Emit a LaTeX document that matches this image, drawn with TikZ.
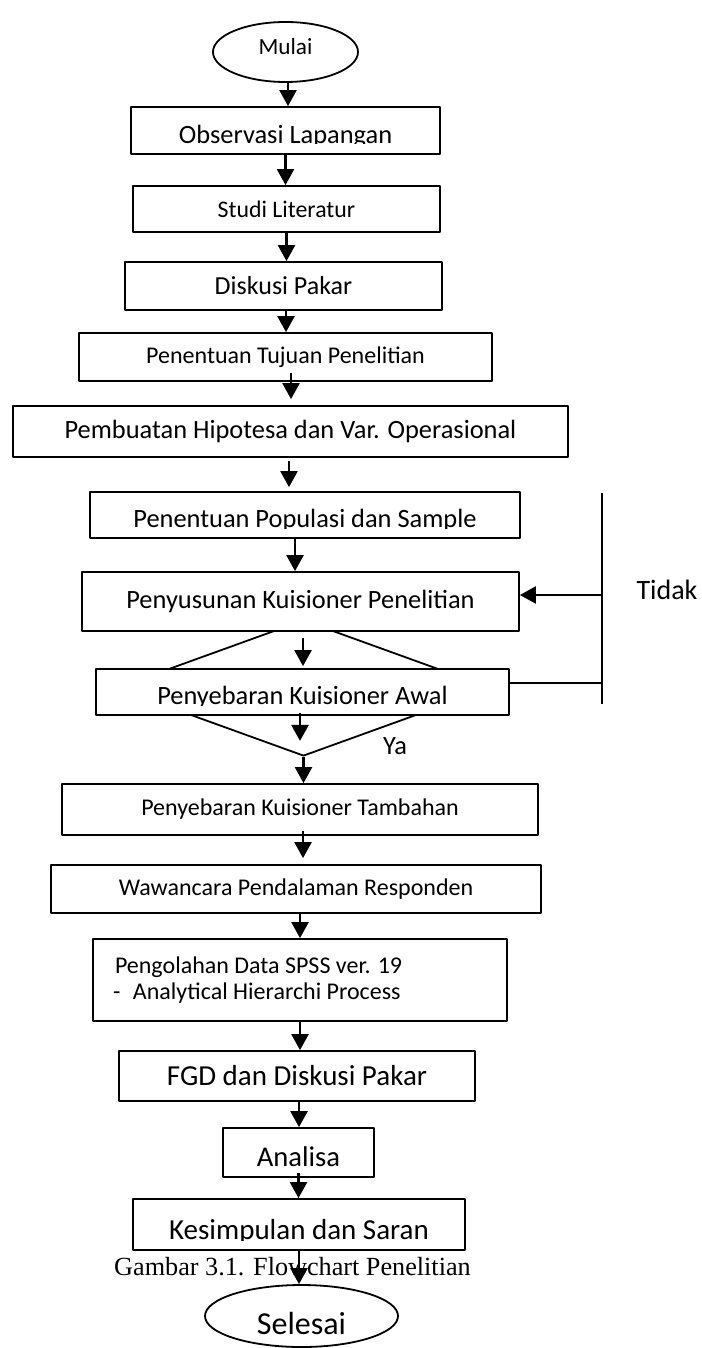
\documentclass[tikz,border=0pt]{standalone}
\usepackage{fontspec}
\setmainfont{Carlito}
\newfontfamily\capfont{Liberation Serif}
\usetikzlibrary{shapes.geometric,arrows.meta}

\begin{document}
\begin{tikzpicture}[x=0.5pt, y=-0.5pt, line join=round, >={Triangle[length=8pt,width=8.5pt]},
  box/.style={draw, fill=white, line width=0.9pt, inner sep=0pt},
  term/.style={draw, ellipse, line width=0.9pt, inner sep=0pt},
  arr/.style={->, line width=1.2pt},
  fa/.style={font=\fontsize{12}{13}\selectfont},
  fb/.style={font=\fontsize{13.2}{15}\selectfont},
  fc/.style={font=\fontsize{14.5}{16}\selectfont},
  cut/.style={path picture={
    \clip ([yshift=5pt]path picture bounding box.south west) rectangle (path picture bounding box.north east);
    \node[anchor=base, inner sep=0pt, draw=none, fill=none, minimum width=0pt, minimum height=0pt]
      at ([yshift=5.3pt]path picture bounding box.south) {#1};}}]
\useasboundingbox (0,0) rectangle (701,1348);

% keputusan, di bawah kotak
\node[diamond, draw, line width=0.9pt, minimum width=187.5pt, minimum height=68pt, inner sep=0pt] (dec) at (303.5,688) {};

\node[term, minimum width=72.5pt, minimum height=30pt, text height=8pt, text depth=5pt, font=\fontsize{11.6}{13}\selectfont] (mulai) at (285.5,52) {Mulai};
\node[box, fb, minimum width=154.5pt, minimum height=23.5pt, cut={Observasi Lapangan}] (obs) at (285.5,130.5) {};
\node[box, font=\fontsize{11.9}{13}\selectfont, minimum width=153.5pt, minimum height=23pt] (stu) at (286.5,209) {Studi Literatur};
\node[box, font=\fontsize{13}{15}\selectfont, minimum width=158.5pt, minimum height=24pt] (dis) at (283.5,286) {Diskusi Pakar};
\node[box, fa, minimum width=206.5pt, minimum height=24pt] (tuj) at (285.5,357) {Penentuan Tujuan Penelitian};
\node[box, fb, minimum width=277.5pt, minimum height=25.5pt] (pem) at (290.5,431.5) {Pembuatan Hipotesa dan Var. Operasional};
\node[box, fb, minimum width=215pt, minimum height=23pt, cut={Penentuan Populasi dan Sample}] (pop) at (305,515) {};
\node[box, fb, minimum width=218.5pt, minimum height=29.5pt] (pen) at (300.5,601.5) {Penyusunan Kuisioner Penelitian};
\node[box, fb, minimum width=206.5pt, minimum height=23pt, cut={Penyebaran Kuisioner Awal}] (awal) at (302.5,692) {};
\node[box, fa, minimum width=238pt, minimum height=25.5pt] (tam) at (300,809.5) {Penyebaran Kuisioner Tambahan};
\node[box, fa, minimum width=245pt, minimum height=24pt] (waw) at (296,889) {Wawancara Pendalaman Responden};
\node[box, fa, minimum width=207pt, minimum height=41pt, text width=185pt, align=flush left, inner xsep=11pt] (olah) at (300,980)
  {Pengolahan Data SPSS ver. 19\\\hspace*{-1pt}\makebox[10pt][l]{-}Analytical Hierarchi Process};
\node[box, fc, minimum width=178pt, minimum height=25pt] (fgd) at (297,1076) {FGD dan Diskusi Pakar};
\node[box, font=\fontsize{14.3}{16}\selectfont, minimum width=75.5pt, minimum height=24.5pt, cut={Analisa}] (ana) at (298.5,1152.5) {};
\node[box, fc, minimum width=166pt, minimum height=25.5pt, cut={Kesimpulan dan Saran}] (kes) at (299,1224.5) {};
\node[font=\capfont\fontsize{13.1}{15}\selectfont, inner sep=0pt] (cap) at (292.5,1267) {Gambar 3.1. Flowchart Penelitian};
\node[term, minimum width=96.5pt, minimum height=31pt, text height=18pt, text depth=0pt, font=\fontsize{16}{18}\selectfont] (sel) at (301.5,1316) {Selesai};

\node[font=\fontsize{14}{16}\selectfont] (tdk) at (667,590) {Tidak};
\node[fb] (ya) at (395,746) {Ya};

% jalur Tidak
\coordinate (t1) at (602,493);
\coordinate (t2) at (602,704);
\draw[line width=0.9pt] (t1) -- (t2);
\draw[line width=0.9pt] ([yshift=4.5pt]awal.east) -- ([yshift=4.5pt]awal.east -| t1);
\draw[arr] ([yshift=3.25pt]pen.east -| t1) -- ([yshift=3.25pt]pen.east);

% panah
\draw[arr] ([xshift=1.25pt]mulai.south) -- ([xshift=1.25pt]mulai.south |- obs.north);
\draw[arr] (obs.south) -- (obs.south |- stu.north);
\draw[arr] (stu.south) -- (stu.south |- dis.north);
\draw[arr] ([xshift=1.25pt]dis.south) -- ([xshift=1.25pt]dis.south |- tuj.north);
\draw[arr] ([xshift=2.75pt,yshift=4.5pt]tuj.south) -- ([xshift=2.75pt,yshift=3pt]tuj.south |- pem.north);
\draw[arr] ([xshift=-0.75pt,yshift=-1.5pt]pem.south) -- ([xshift=-0.75pt,yshift=2pt]pem.south |- pop.north);
\draw[arr] ([xshift=-5pt]pop.south) -- ([xshift=-5pt]pop.south |- pen.north);
\draw[arr] ([xshift=1.25pt,yshift=-3pt]pen.south) -- ([xshift=1.25pt,yshift=1pt]pen.south |- awal.north);
\draw[arr] ([xshift=-1.25pt,yshift=1.5pt]awal.south) -- ([xshift=-1.25pt,yshift=8pt]awal.south |- dec.south);
\draw[arr] (dec.south) -- (dec.south |- tam.north);
\draw[arr] ([xshift=1.5pt,yshift=2.5pt]tam.south) -- ([xshift=1.5pt,yshift=3pt]tam.south |- waw.north);
\draw[arr] ([xshift=2pt]waw.south) -- ([xshift=2pt]waw.south |- olah.north);
\draw[arr] (olah.south) -- (olah.south |- fgd.north);
\draw[arr] ([xshift=1pt]fgd.south) -- ([xshift=1pt]fgd.south |- ana.north);
\draw[arr] ([yshift=2.5pt]ana.south) -- (ana.south |- kes.north);
\draw[arr] (kes.south) -- (kes.south |- sel.north);
\end{tikzpicture}
\end{document}
